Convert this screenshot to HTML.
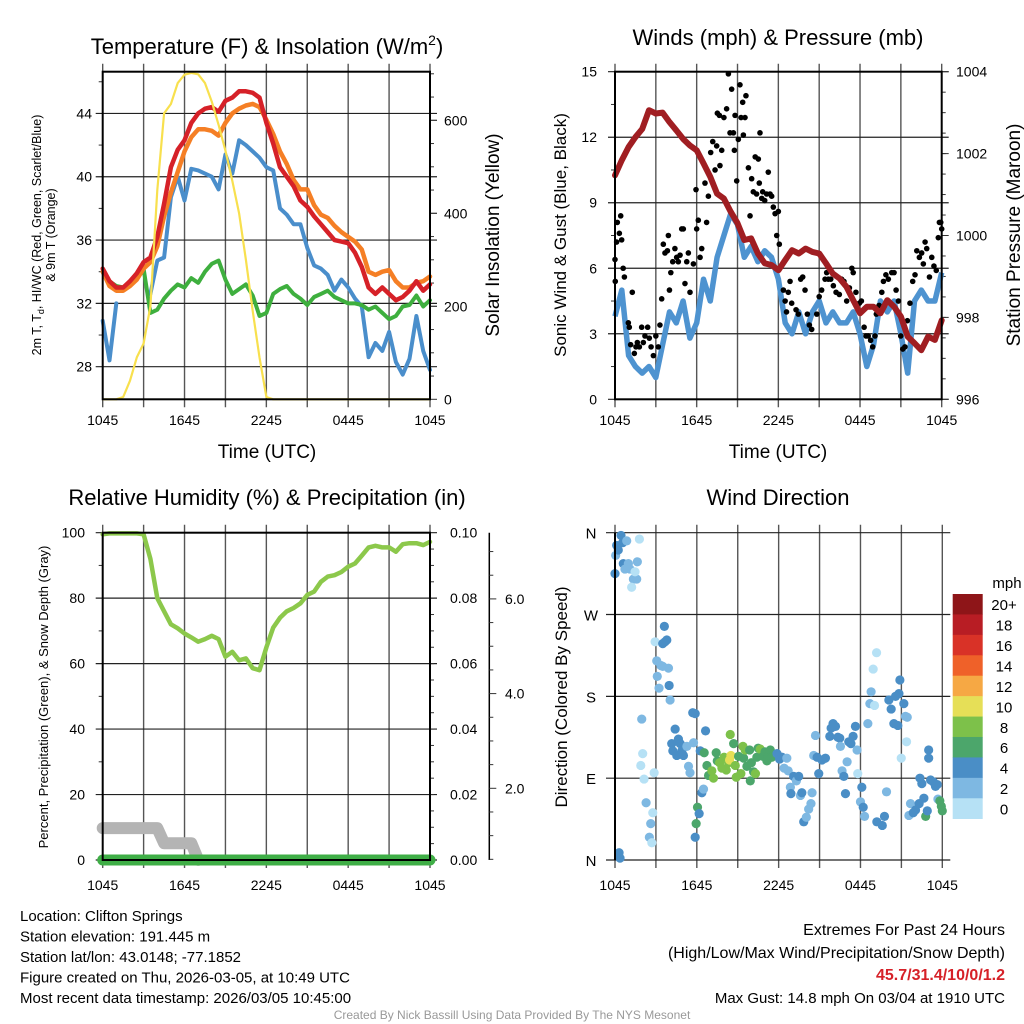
<!DOCTYPE html>
<html><head><meta charset="utf-8"><style>
html,body{margin:0;padding:0;background:#fff;}
svg{display:block;font-family:"Liberation Sans",sans-serif;}
</style></head><body>
<svg id="fig" width="1024" height="1024" viewBox="0 0 1024 1024" xmlns="http://www.w3.org/2000/svg"></svg>
<script>
// ---------- DATA (half-hour steps from 1045 UTC) ----------
const timeTicks = ["1045","1645","2245","0445","1045"];
const tempRed = [34.2,33.4,33.0,33.0,33.4,33.9,34.6,34.9,36.2,38.3,40.6,41.7,42.3,43.4,44.0,44.3,44.4,44.1,44.8,45.0,45.4,45.4,45.3,45.0,43.4,42.1,40.6,40.0,39.4,38.5,38.1,37.5,37.0,36.5,36.0,35.9,35.8,35.2,34.3,33.0,32.6,33.0,32.6,32.2,32.4,32.8,33.4,32.8,33.2];
const tempOrange = [34.0,33.1,32.8,32.8,33.1,33.5,34.2,34.6,35.6,37.5,39.0,40.3,41.6,42.5,43.0,43.0,42.9,42.6,43.4,44.0,44.3,44.5,44.6,44.4,43.6,42.7,41.6,40.8,39.8,39.2,39.2,38.2,37.6,37.4,36.9,36.5,36.2,35.9,35.4,34.0,33.8,34.0,34.1,33.4,33.0,33.0,33.3,33.4,33.7];
const tempBlue = [30.9,28.4,32.0,null,null,null,null,32.6,34.7,34.9,38.7,40.0,38.5,40.5,40.4,40.2,40.0,39.2,41.4,40.2,42.3,42.0,41.6,41.2,40.6,40.4,38.0,37.6,37.0,37.0,35.5,34.4,34.2,33.8,32.8,33.5,33.0,32.3,31.8,28.6,29.5,29.0,30.2,28.3,27.5,28.5,31.2,29.0,27.8];
const tempGreen = [34.0,33.4,33.1,33.0,33.2,33.6,34.2,31.4,31.6,32.3,32.8,33.2,33.0,33.6,33.3,34.0,34.5,34.7,33.5,32.6,32.9,33.2,32.5,31.2,31.4,32.6,32.9,33.1,32.6,32.3,31.9,32.4,32.6,32.8,32.4,32.2,32.0,32.0,31.9,31.6,31.8,31.4,31.0,31.2,31.8,31.9,32.5,31.8,32.2];
const insolation = [0,0,0,5,40,90,120,200,450,615,635,680,698,702,699,680,640,590,535,470,400,300,190,90,5,0,0,0,0,0,0,0,0,0,0,0,0,0,0,0,0,0,0,0,0,0,0,0,0];
const pressure = [1001.47,1001.84,1002.16,1002.4,1002.6,1003.06,1002.98,1003.0,1002.77,1002.57,1002.36,1002.2,1002.08,1001.76,1001.43,1001.02,1000.9,1000.58,1000.3,999.89,999.93,999.56,999.32,999.28,999.15,999.4,999.64,999.56,999.68,999.6,999.56,999.32,999.07,998.95,998.75,998.42,998.1,998.26,998.26,998.1,998.42,998.26,998.02,997.53,997.37,997.2,997.53,997.45,997.93];
const sonicWind = [3.8,5.0,2.0,1.5,1.2,1.5,1.0,2.5,4.0,3.5,4.5,2.8,3.5,5.5,4.5,6.5,7.5,8.5,8.0,6.5,7.0,6.3,6.8,6.5,5.5,3.5,3.0,4.0,3.0,4.0,4.5,3.5,4.0,3.5,3.5,4.0,3.0,1.5,2.5,4.5,4.0,4.5,3.0,1.2,4.5,5.0,4.5,4.5,5.8];
const gustHours = [0,0.02,0.12,0.17,0.32,0.42,0.49,0.6,0.69,0.98,1.05,1.15,1.27,1.42,1.54,1.64,1.79,1.96,2.08,2.2,2.4,2.52,2.65,2.82,3.0,3.18,3.3,3.43,3.55,3.67,3.85,3.92,4.0,4.1,4.24,4.4,4.53,4.65,4.78,4.9,5.02,5.14,5.27,5.39,5.51,5.76,5.95,6.0,6.12,6.25,6.37,6.61,6.73,6.86,7.03,7.18,7.35,7.47,7.52,7.67,7.71,7.84,8.0,8.2,8.33,8.45,8.57,8.7,8.77,8.82,8.94,9.06,9.18,9.26,9.38,9.43,9.55,9.62,9.8,9.92,10.04,10.16,10.3,10.4,10.53,10.6,10.65,10.78,10.85,11.0,11.14,11.26,11.39,11.51,11.63,11.76,11.88,12.0,12.07,12.37,12.5,12.6,12.73,12.86,12.98,13.3,13.47,13.64,13.79,13.96,14.13,14.28,14.45,14.82,15.0,15.18,15.43,15.55,15.67,15.85,16.04,16.24,16.48,16.65,16.82,17.02,17.22,17.4,17.5,17.7,17.95,18.1,18.3,18.44,18.6,18.78,18.93,19.1,19.2,19.4,19.6,19.72,19.9,20.08,20.33,20.5,20.65,20.82,20.99,21.14,21.3,21.48,21.67,21.87,22.04,22.17,22.36,22.53,22.65,22.78,22.9,23.1,23.27,23.43,23.6,23.75,23.83,23.93,24];
const gustValues = [6.4,5.4,7.2,8.1,7.6,8.4,7.3,6.0,5.6,3.5,3.3,2.5,4.9,2.1,2.4,2.6,2.4,3.3,2.6,2.9,3.3,2.8,2.4,2.0,2.9,2.4,3.4,4.6,7.1,6.7,6.8,7.5,5.0,5.8,6.3,6.9,6.5,6.3,6.6,7.8,7.8,5.3,6.3,6.7,4.9,6.2,9.6,7.8,8.2,6.5,6.9,9.9,8.1,9.3,11.3,11.8,10.5,11.6,13.1,13.0,10.7,11.4,12.9,13.3,14.9,12.2,14.2,12.2,11.4,13.0,10.0,11.9,14.4,12.9,13.6,12.1,12.9,13.9,10.6,8.4,10.1,9.5,11.1,9.4,11.0,9.9,12.2,9.2,9.5,9.1,9.4,10.4,9.4,9.3,8.8,8.5,7.5,8.6,7.1,5.0,4.5,4.0,4.9,5.4,4.4,4.1,3.9,5.5,5.6,5.0,3.9,3.4,3.2,3.9,4.7,5.0,5.5,5.8,5.5,5.5,5.2,4.9,4.8,5.5,5.4,4.5,5.1,6.0,5.8,4.9,4.4,4.5,3.3,2.9,2.9,2.7,2.4,2.9,3.9,4.3,4.9,5.4,5.7,5.5,5.8,5.8,5.0,4.5,2.9,2.3,2.4,3.6,4.4,5.4,5.7,6.8,6.5,6.7,6.2,7.2,6.9,5.6,6.5,6.1,5.9,7.4,8.1,8.1,7.8];
const relHum = [99.5,99.8,99.8,99.8,99.8,99.8,99.5,92,80,76,72,70.8,69.2,68,66.7,67.5,68.5,67.5,62.1,63.6,61,61.6,58.6,58,65,71,74,76,77,78.4,81,82,85,86.6,87,88,89.6,90.6,93,95.5,96,95.5,95.5,94.2,96.5,96.8,96.8,96.2,97.2];
const precip = [0,0,0,0,0,0,0,0,0,0,0,0,0,0,0,0,0,0,0,0,0,0,0,0,0,0,0,0,0,0,0,0,0,0,0,0,0,0,0,0,0,0,0,0,0,0,0,0,0];
const snowDepth = [1.16,1.16,1.16,1.16,1.16,1.16,1.16,1.16,1.16,0.84,0.84,0.84,0.84,0.84,0.49];
const dirHours = [0,0.05,0.12,0.24,0.44,0.56,0.61,0.86,0.98,0.73,1.10,1.35,1.59,1.22,1.47,1.64,1.79,0.3,0.37,1.96,2.03,1.89,2.13,2.28,2.62,2.52,2.7,2.77,2.87,2.94,3.06,3.1,3.23,3.36,3.5,3.5,3.67,3.8,3.62,3.92,3.97,4.04,4.16,4.24,4.41,4.53,4.65,4.78,4.9,5.02,5.27,5.39,5.5,5.76,5.7,5.88,5.88,5.95,6.05,6.17,6.37,6.49,6.64,6.25,6.54,6.74,6.86,7.1,7.22,7.42,7.5,7.67,7.84,8.0,8.16,8.33,8.45,8.5,8.4,8.7,8.82,8.89,9.06,9.23,9.38,9.43,9.55,9.67,9.87,9.92,10.0,10.16,10.3,10.4,10.5,10.65,10.85,11.0,11.14,11.26,11.39,11.5,11.88,12.07,12.25,12.4,12.6,12.7,12.86,12.9,13.1,13.3,13.47,13.6,13.7,13.84,14.03,14.2,14.37,14.45,14.57,14.7,14.82,14.94,15.18,15.43,15.75,15.85,15.99,16.17,16.34,16.48,16.53,16.65,16.78,16.9,17.02,17.14,17.3,17.46,17.63,17.75,17.8,18.0,18.1,18.2,18.3,18.54,18.69,18.78,18.93,19.18,19.03,19.2,19.6,19.76,19.91,20.08,20.25,20.45,20.57,20.74,20.89,20.82,20.99,21.18,21.3,21.43,21.38,21.55,21.67,21.87,22.04,22.3,22.36,22.5,22.65,22.78,22.9,23.0,23.0,23.14,23.34,23.5,23.63,23.68,23.82,23.93,24];
const dirDegrees = [315,335,346,341,357,349,326,351,326,320,320,309,309,300,317,328,353,8,2,155,117,104,89,63,40,25,19,52,96,240,219,202,189,214,213,238,240,242,257,211,192,176,128,120,144,115,133,128,120,115,125,103,96,129,162,161,25,40,58,51,74,78,142,120,118,104,93,98,90,118,109,107,101,113,99,107,138,115,110,128,104,91,114,95,125,112,121,103,121,87,107,97,95,113,123,122,114,119,109,115,121,113,117,111,113,101,112,98,80,73,92,87,92,71,74,42,47,56,62,74,115,137,113,95,110,112,136,145,150,147,135,134,125,98,92,73,108,130,128,136,147,121,95,64,80,58,48,150,172,185,210,228,170,42,38,48,75,176,166,150,180,148,198,183,112,172,158,157,130,49,62,52,55,62,90,84,68,48,54,121,112,88,86,81,83,67,65,59,54];
const dirSpeeds = [5,3,5,5,5,5,5,3,3,3,3,3,3,1,1,3,1,5,5,3,1,1,1,3,3,3,1,1,1,1,3,3,3,3,3,5,5,5,5,3,5,3,5,5,5,5,5,5,5,5,3,3,3,3,5,5,5,7,7,5,5,3,5,5,7,7,7,9,9,7,7,9,9,9,9,9,9,11,11,7,9,9,7,9,9,7,9,7,7,7,7,7,9,7,7,9,7,7,7,7,7,7,5,5,5,3,3,3,3,5,5,3,5,3,5,5,3,3,3,3,3,3,5,5,5,5,5,5,5,5,5,5,3,3,5,5,3,5,5,5,5,3,1,3,5,5,3,3,3,3,1,1,1,5,5,5,3,5,5,5,5,5,5,5,1,5,3,3,1,3,3,5,5,5,5,5,5,7,5,5,5,5,5,5,5,3,7,7,7];
const speedBins = ["20+","18","16","14","12","10","8","6","4","2","0"];
const binColors = ["#8E1518","#B81D24","#D93227","#EF6129","#F6A844","#E6DF57","#7DC14A","#4CA66B","#4A8EC6","#7EB8E2","#B6E1F5"];

// ---------- helpers ----------
const NS="http://www.w3.org/2000/svg";
const svg=document.getElementById('fig');
function mk(tag,attrs,parent){const e=document.createElementNS(NS,tag);for(const k in attrs)e.setAttribute(k,attrs[k]);(parent||svg).appendChild(e);return e;}
function txt(s,x,y,size,anchor,parent,extra){const t=mk('text',Object.assign({x:x,y:y,'font-size':size,'text-anchor':anchor||'middle',fill:'#000'},extra||{}),parent);t.textContent=s;return t;}
function pathFrom(vals,xf,yf){let d='',pen=false;vals.forEach((v,i)=>{if(v===null||v===undefined){pen=false;return;}d+=(pen?'L':'M')+xf(i*0.5).toFixed(1)+' '+yf(v).toFixed(1)+' ';pen=true;});return d;}

function frame(P,name){
  const g=mk('g',{});
  
  
  for(let h=0;h<=24;h+=3){
    const x=P.x0+h*(P.x1-P.x0)/24;
    const l=mk('line',{x1:x,x2:x,y1:P.y0-8,y2:P.y1+8,stroke:'#555','stroke-width':1.4},g);
    
    
  }
  return g;
}
function hgrid(g,P,y,ext){const l=mk('line',{x1:P.x0-(ext||7),x2:P.x1+(ext===0?0:7),y1:y,y2:y,stroke:'#222','stroke-width':1.2},g);}
function tick(g,x1,y1,x2,y2){const l=mk('line',{x1:x1,y1:y1,x2:x2,y2:y2,stroke:'#333','stroke-width':1},g);}
function border(g,P){const r=mk('rect',{x:P.x0,y:P.y0,width:P.x1-P.x0,height:P.y1-P.y0,fill:'none',stroke:'#000','stroke-width':2},g);}
function xlabels(g,P,y){timeTicks.forEach((s,i)=>{const t=txt(s,P.x0+i*(P.x1-P.x0)/4,y,14,'middle',g);});}

// ================= PANEL 1 =================
const P1={x0:102.7,x1:430,y0:71.7,y1:399.3};
const x1f=t=>P1.x0+t*(P1.x1-P1.x0)/24;
const yT=v=>366.7-(v-28)*15.83;
const yI=v=>P1.y1-v*0.465;
{
  const g=frame(P1,'temperature');
  [28,32,36,40,44].forEach(v=>{hgrid(g,P1,yT(v));const t=txt(String(v),92,yT(v)+5,14,'end',g);});
  [30,34,38,42,46].forEach(v=>tick(g,P1.x0-4,yT(v),P1.x0,yT(v)));
  for(let v=50;v<=700;v+=50){tick(g,P1.x1,yI(v),P1.x1+(v%200===0?7:4),yI(v));}
  [0,200,400,600].forEach(v=>{tick(g,P1.x1,yI(v),P1.x1+7,yI(v));const t=txt(String(v),444,yI(v)+5,14,'start',g);});
  xlabels(g,P1,425);
  const series=[[tempBlue,'#4A8ECB',4,'dewpoint-blue-line'],[tempGreen,'#3EAF3E',4,'dewpoint-green-line'],[tempOrange,'#F57F25',4.5,'temp-9m-orange-line'],[tempRed,'#D62128',4.5,'temp-2m-red-line']];
  series.forEach(s=>{const p=mk('path',{d:pathFrom(s[0],x1f,yT),fill:'none',stroke:s[1],'stroke-width':s[2],'stroke-linejoin':'round','stroke-linecap':'round'},g);});
  const py=mk('path',{d:pathFrom(insolation,x1f,yI),fill:'none',stroke:'#F8E04E','stroke-width':2.2,'stroke-linejoin':'round'},g);
  
  
  border(g,P1);
  const ti=txt('',267,54,22,'middle',g);ti.innerHTML='Temperature (F) &amp; Insolation (W/m<tspan font-size="14" dy="-9">2</tspan><tspan dy="9">)</tspan>';
  
  const xl=txt('Time (UTC)',267,458,19,'middle',g);
  const yl=txt('',0,0,12.5,'middle',g,{transform:'translate(41,235) rotate(-90)'});yl.innerHTML='2m T, T<tspan font-size="9" dy="3">d</tspan><tspan dy="-3">, HI/WC (Red, Green, Scarlet/Blue)</tspan>';
  
  const yl2=txt('& 9m T (Orange)',0,0,12.5,'middle',g,{transform:'translate(55,235) rotate(-90)'});
  const yr=txt('Solar Insolation (Yellow)',0,0,19,'middle',g,{transform:'translate(499,235) rotate(-90)'});
}

// ================= PANEL 2 =================
const P2={x0:615,x1:941.7,y0:71.7,y1:399.3};
const x2f=t=>P2.x0+t*(P2.x1-P2.x0)/24;
const yW=v=>P2.y1-v*21.84;
const yP=v=>P2.y1-(v-996)*40.95;
{
  const g=frame(P2,'winds');
  [0,3,6,9,12,15].forEach(v=>{hgrid(g,P2,yW(v));const t=txt(String(v),597,yW(v)+5,14,'end',g);});
  [1.5,4.5,7.5,10.5,13.5].forEach(v=>tick(g,P2.x0-4,yW(v),P2.x0,yW(v)));
  for(let v=996.5;v<1004;v+=0.5){tick(g,P2.x1,yP(v),P2.x1+4,yP(v));}
  [996,998,1000,1002,1004].forEach(v=>{tick(g,P2.x1,yP(v),P2.x1+7,yP(v));const t=txt(String(v),956,yP(v)+5,14,'start',g);});
  xlabels(g,P2,425);
  const pw=mk('path',{d:pathFrom(sonicWind,x2f,yW),fill:'none',stroke:'#4E93D0','stroke-width':5.5,'stroke-linejoin':'round'},g);
  
  gustHours.forEach((h,i)=>{const c=mk('circle',{cx:x2f(h),cy:yW(gustValues[i]),r:2.8,fill:'#000'},g);
    
    });
  const pp=mk('path',{d:pathFrom(pressure,x2f,yP),fill:'none',stroke:'#A01E22','stroke-width':6,'stroke-linejoin':'round','stroke-linecap':'round'},g);
  
  border(g,P2);
  const ti=txt('Winds (mph) & Pressure (mb)',778,45,22,'middle',g);
  const xl=txt('Time (UTC)',778,458,19,'middle',g);
  const yl=txt('Sonic Wind & Gust (Blue, Black)',0,0,17,'middle',g,{transform:'translate(566,235) rotate(-90)'});
  const yr=txt('Station Pressure (Maroon)',0,0,19,'middle',g,{transform:'translate(1020,235) rotate(-90)'});
}

// ================= PANEL 3 =================
const P3={x0:102.7,x1:430,y0:532.7,y1:860};
const x3f=t=>P3.x0+t*(P3.x1-P3.x0)/24;
const yRH=v=>P3.y1-v*3.273;
const yPr=v=>P3.y1-v*3273;
const ySn=v=>883-v*47.35;
{
  const g=frame(P3,'humidity');
  [0,20,40,60,80,100].forEach(v=>{hgrid(g,P3,yRH(v));const t=txt(String(v),85,yRH(v)+5,14,'end',g);});
  [10,30,50,70,90].forEach(v=>tick(g,P3.x0-4,yRH(v),P3.x0,yRH(v)));
  for(let v=5;v<100;v+=5){tick(g,P3.x1,yRH(v),P3.x1+4,yRH(v));}
  ['0.00','0.02','0.04','0.06','0.08','0.10'].forEach((s,i)=>{const t=txt(s,450,yRH(i*20)+5,14,'start',g);});
  const ax=mk('line',{x1:489.3,x2:489.3,y1:P3.y0,y2:P3.y1,stroke:'#000','stroke-width':1.5},g);
  
  for(let v=0.5;v<=7;v+=0.5){const y=ySn(v);if(y<P3.y0-1||y>P3.y1+1)continue;tick(g,489.3,y,489.3+((v%2===0)?7:4),y);}
  ['2.0','4.0','6.0'].forEach((s,i)=>{const t=txt(s,505,ySn((i+1)*2)+5,14,'start',g);});
  xlabels(g,P3,890);
  const ps=mk('path',{d:pathFrom(snowDepth,x3f,ySn),fill:'none',stroke:'#B4B4B4','stroke-width':12,'stroke-linejoin':'round','stroke-linecap':'round'},g);
  
  const pr=mk('path',{d:pathFrom(precip,x3f,yPr),fill:'none',stroke:'#3FAE46','stroke-width':11,'stroke-linecap':'round'},g);
  
  const ph=mk('path',{d:pathFrom(relHum,x3f,yRH),fill:'none',stroke:'#8CC84B','stroke-width':4.5,'stroke-linejoin':'round','stroke-linecap':'round'},g);
  
  border(g,P3);
  const ti=txt('Relative Humidity (%) & Precipitation (in)',267,505,22,'middle',g);
  const yl=txt('Percent, Precipitation (Green), & Snow Depth (Gray)',0,0,13,'middle',g,{transform:'translate(48,697) rotate(-90)'});
}

// ================= PANEL 4 =================
const P4={x0:615,x1:942.3,y0:532.7,y1:860};
const x4f=t=>P4.x0+t*(P4.x1-P4.x0)/24;
const yD=v=>P4.y1-v*(P4.y1-P4.y0)/360;
function binColor(s){const idx=Math.min(10,Math.floor(s/2));return binColors[10-idx];}
{
  const g=frame(P4,'wind-direction');
  ['N','E','S','W','N'].forEach((s,i)=>{const y=yD(i*90);const l=mk('line',{x1:P4.x0-9,x2:P4.x1+8,y1:y,y2:y,stroke:'#222','stroke-width':1.2},g);
    const t=txt(s,591,y+6,15,'middle',g);});
  xlabels(g,P4,890);
  dirHours.forEach((h,i)=>{const c=mk('circle',{cx:x4f(h),cy:yD(dirDegrees[i]),r:4.6,fill:binColor(dirSpeeds[i])},g);
    
    });
  const bl=mk('line',{x1:P4.x0,x2:P4.x0,y1:P4.y0,y2:P4.y1,stroke:'#000','stroke-width':2},g);
  const ti=txt('Wind Direction',778,505,22,'middle',g);
  const yl=txt('Direction (Colored By Speed)',0,0,17,'middle',g,{transform:'translate(567,697) rotate(-90)'});
  const lg=mk('g',{},g);
  const bh=(818.7-594)/speedBins.length;
  speedBins.forEach((s,i)=>{const r=mk('rect',{x:952.7,y:594+i*bh,width:30,height:bh+0.3,fill:binColors[i]},lg);
    const t=txt(s,1004,594+i*bh+bh/2+6,15,'middle',lg);});
  const mu=txt('mph',1007,588,15,'middle',lg);
}

// ================= FOOTER TEXT =================
{
  const g=mk('g',{});
  ['Location: Clifton Springs','Station elevation: 191.445 m','Station lat/lon: 43.0148; -77.1852','Figure created on Thu, 2026-03-05, at 10:49 UTC','Most recent data timestamp: 2026/03/05 10:45:00'].forEach((s,i)=>{const t=txt(s,20,921+i*20.5,15,'start',g);});
  const h=mk('g',{});
  const a=txt('Extremes For Past 24 Hours',1005,935,16,'end',h);
  const b=txt('(High/Low/Max Wind/Precipitation/Snow Depth)',1005,958,16,'end',h);
  const c=txt('45.7/31.4/10/0/1.2',1005,980,16,'end',h,{fill:'#D62128','font-weight':'bold'});
  const d=txt('Max Gust: 14.8 mph On 03/04 at 1910 UTC',1005,1003,15,'end',h);
  const f=txt('Created By Nick Bassill Using Data Provided By The NYS Mesonet',512,1019,12,'middle',svg,{fill:'#999'});
}
</script>
</body></html>
